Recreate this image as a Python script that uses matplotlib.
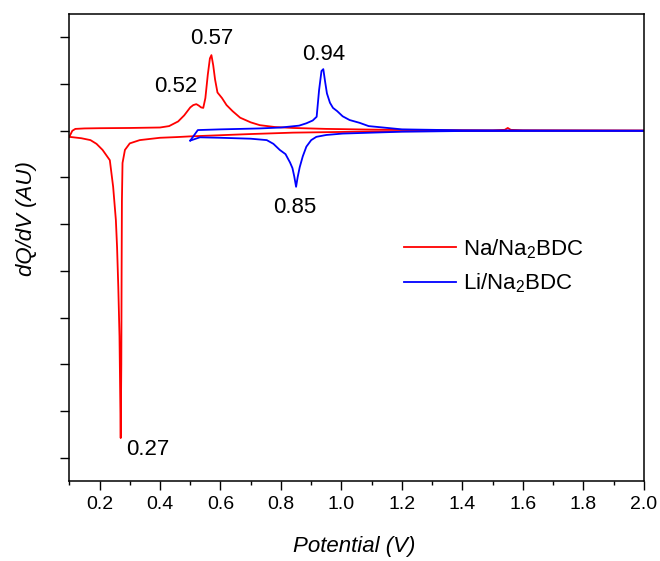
"""
dQ/dV curves, Na/Na2BDC vs Li/Na2BDC half cells
Out: out.png (660x561)
"""

import matplotlib.pyplot as plt
import matplotlib as mpl
from matplotlib.ticker import MultipleLocator

# --- data (potential in V, dQ/dV in arbitrary units) ---
# Na/Na2BDC, charge branch (0.1 -> 2.0 V)
na_chg_v = [0.100, 0.110, 0.120, 0.150, 0.200, 0.300, 0.400, 0.430, 0.460, 0.480,
            0.500, 0.510, 0.520, 0.528, 0.536, 0.543, 0.550, 0.558, 0.565, 0.570,
            0.576, 0.582, 0.590, 0.605, 0.620, 0.640, 0.665, 0.700, 0.730, 0.780,
            0.840, 0.950, 1.100, 1.300, 1.500, 1.540, 1.550, 1.560, 1.600, 2.000]
na_chg_dq = [-0.13, 0.00, 0.04, 0.05, 0.055, 0.06, 0.07, 0.10, 0.20, 0.33,
             0.50, 0.55, 0.57, 0.54, 0.50, 0.49, 0.70, 1.20, 1.55, 1.62,
             1.40, 1.10, 0.82, 0.70, 0.55, 0.42, 0.28, 0.18, 0.12, 0.08,
             0.06, 0.04, 0.025, 0.015, 0.01, 0.02, 0.06, 0.02, 0.01, 0.005]

# Na/Na2BDC, discharge branch (2.0 -> 0.1 V)
na_dis_v = [2.000, 1.600, 1.200, 1.060, 0.840, 0.700, 0.620, 0.500, 0.456, 0.400,
            0.333, 0.300, 0.284, 0.276, 0.274, 0.273, 0.272, 0.270, 0.268, 0.266,
            0.262, 0.258, 0.254, 0.245, 0.234, 0.210, 0.190, 0.170, 0.140, 0.100]
na_dis_dq = [0.00, 0.00, -0.01, -0.02, -0.04, -0.07, -0.09, -0.12, -0.135, -0.15,
             -0.20, -0.27, -0.41, -0.69, -1.50, -3.00, -5.00, -6.58, -5.48, -4.40,
             -3.34, -2.50, -1.91, -1.20, -0.63, -0.41, -0.28, -0.20, -0.16, -0.13]

# Li/Na2BDC, discharge branch (2.0 -> 0.5 V)
li_dis_v = [2.000, 1.400, 1.200, 1.004, 0.950, 0.917, 0.900, 0.884, 0.872, 0.862,
            0.855, 0.850, 0.844, 0.838, 0.830, 0.815, 0.796, 0.775, 0.753, 0.700,
            0.600, 0.532, 0.500]
li_dis_dq = [0.00, -0.005, -0.02, -0.06, -0.09, -0.13, -0.20, -0.34, -0.55, -0.78,
             -1.00, -1.20, -0.98, -0.80, -0.68, -0.50, -0.41, -0.28, -0.20, -0.17,
             -0.15, -0.14, -0.21]

# Li/Na2BDC, charge branch (0.5 -> 2.0 V)
li_chg_v = [0.500, 0.525, 0.600, 0.730, 0.800, 0.860, 0.884, 0.905, 0.918, 0.926,
            0.934, 0.940, 0.946, 0.952, 0.962, 0.972, 0.986, 1.004, 1.027, 1.060,
            1.090, 1.200, 1.400, 2.000]
li_chg_dq = [-0.21, 0.015, 0.03, 0.05, 0.07, 0.11, 0.16, 0.22, 0.30, 0.87,
             1.28, 1.32, 1.05, 0.80, 0.60, 0.49, 0.42, 0.31, 0.23, 0.17,
             0.10, 0.03, 0.01, 0.00]

# peak labels: (text, potential, dQ/dV, offset in points)
peaks = [
    ("0.57", 0.57, 1.62, (0, 12.2)),
    ("0.52", 0.52, 0.57, (-14.8, 12.6)),
    ("0.94", 0.94, 1.32, (0, 10.8)),
    ("0.85", 0.85, -1.20, (-1.2, -14.6)),
    ("0.27", 0.27, -6.58, (19.2, -7.9)),
]

RED = "#ff0000"
BLUE = "#0000ff"

mpl.rcParams.update({
    "font.family": ["Liberation Sans", "DejaVu Sans"],
    "mathtext.fontset": "custom",
    "mathtext.rm": "Liberation Sans",
    "mathtext.it": "Liberation Sans:italic",
    "mathtext.default": "regular",
})

fig = plt.figure(figsize=(6.6, 5.61), dpi=100)
ax = fig.add_axes([0.105, 0.1426, 0.8705, 0.8324])

ax.plot(na_chg_v, na_chg_dq, color=RED, lw=1.3, label="Na/Na$_2$BDC")
ax.plot(na_dis_v, na_dis_dq, color=RED, lw=1.3)
ax.plot(li_dis_v, li_dis_dq, color=BLUE, lw=1.3, label="Li/Na$_2$BDC")
ax.plot(li_chg_v, li_chg_dq, color=BLUE, lw=1.3)

for txt, xv, yv, off in peaks:
    ax.annotate(txt, xy=(xv, yv), xytext=off, textcoords="offset points",
                ha="center", va="center", fontsize=16)

ax.set_xlim(0.1, 2.0)
ax.set_ylim(-7.5, 2.5)
ax.xaxis.set_minor_locator(MultipleLocator(0.1))
ax.yaxis.set_major_locator(MultipleLocator(1))
ax.set_xticks([0.2, 0.4, 0.6, 0.8, 1.0, 1.2, 1.4, 1.6, 1.8, 2.0])
ax.set_xticklabels(["0.2", "0.4", "0.6", "0.8", "1.0", "1.2", "1.4", "1.6", "1.8", "2.0"])
ax.tick_params(axis="x", which="major", direction="out", length=6.3, width=1.0,
               labelsize=14, pad=4.5)
ax.tick_params(axis="x", which="minor", direction="out", length=3.1, width=1.0)
ax.tick_params(axis="y", which="major", direction="out", length=6.5, width=1.0,
               labelleft=False)
for sp in ax.spines.values():
    sp.set_linewidth(1.1)

ax.set_xlabel("Potential (V)", fontsize=16, style="italic")
ax.xaxis.set_label_coords(0.495, -0.118)
ax.set_ylabel("dQ/dV (AU)", fontsize=16, style="italic")
ax.yaxis.set_label_coords(-0.056, 0.561)

ax.legend(loc="upper left", bbox_to_anchor=(0.548, 0.565), frameon=False,
          fontsize=16, handlelength=2.35, labelspacing=0.48, handletextpad=0.32)

fig.savefig("out.png", dpi=100)
